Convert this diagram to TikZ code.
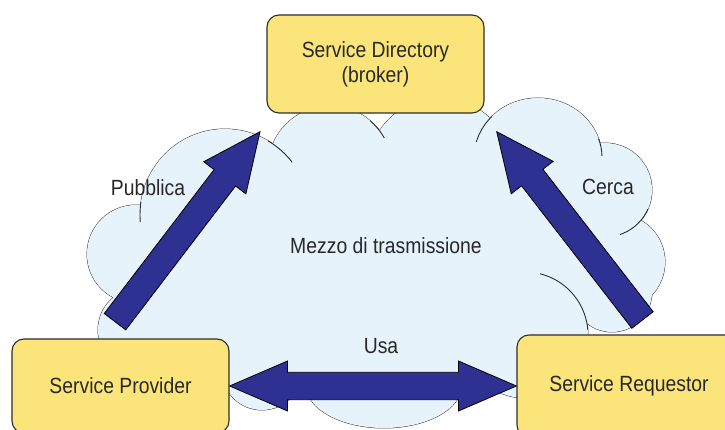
\documentclass[tikz,border=0pt]{standalone}
\usepackage{fontspec}
\setmainfont{Liberation Sans}[FakeStretch=0.88]
\usetikzlibrary{calc}
\definecolor{boxfill}{RGB}{251,229,122}
\definecolor{cloudfill}{RGB}{230,243,251}
\definecolor{arrowfill}{RGB}{46,49,146}
\definecolor{inkc}{RGB}{45,45,45}
\definecolor{txtc}{RGB}{40,40,40}
\tikzset{
  boxst/.style={draw=inkc, line width=1.1pt, fill=boxfill, rounded corners=12pt,
    align=center, text=txtc, font=\fontsize{22}{25}\selectfont, inner sep=0pt},
  lbl/.style={text=txtc, font=\fontsize{22}{25}\selectfont, inner sep=0pt},
  blockarrow/.style={draw=black, line width=0.8pt, fill=arrowfill, line join=miter},
  cloudline/.style={draw=inkc, line width=0.9pt},
  cloudfillst/.style={fill=cloudfill},
}
\newcommand\blkarrow[2]{%
  \draw[blockarrow] ($(#1)!13.5pt!90:(#2)$)
    -- ($(#2)!58pt!(#1)!13.5pt!90:(#2)$)
    -- ($(#2)!58pt!(#1)!26.5pt!90:(#2)$)
    -- (#2)
    -- ($(#2)!58pt!(#1)!26.5pt!-90:(#2)$)
    -- ($(#2)!58pt!(#1)!13.5pt!-90:(#2)$)
    -- ($(#1)!13.5pt!-90:(#2)$) -- cycle;}
\newcommand\dblarrow[2]{%
  \draw[blockarrow] (#1)
    -- ($(#1)!58pt!(#2)!25pt!90:(#2)$)
    -- ($(#1)!58pt!(#2)!13.7pt!90:(#2)$)
    -- ($(#2)!58pt!(#1)!13.7pt!90:(#2)$)
    -- ($(#2)!58pt!(#1)!25pt!90:(#2)$)
    -- (#2)
    -- ($(#2)!58pt!(#1)!25pt!-90:(#2)$)
    -- ($(#2)!58pt!(#1)!13.7pt!-90:(#2)$)
    -- ($(#1)!58pt!(#2)!13.7pt!-90:(#2)$)
    -- ($(#1)!58pt!(#2)!25pt!-90:(#2)$) -- cycle;}
\begin{document}
\begin{tikzpicture}[x=1pt,y=1pt]
  \useasboundingbox (0,0) rectangle (725,430);
  \clip (0,0) rectangle (725,430);
  \fill[white] (0,0) rectangle (725,430);
  % cloud: outlines, then fill of the union
  \def\cloudlist{385/165/215/120, 225/215/85/86, 136/176/49/49, 140/100/42/42,
    200/130/50/50, 262/60/40/40, 384/45/78/43, 525/95/63/63, 612/138/40/40,
    617/168/48/48, 605/240/47/47, 538/272/64/60, 330/262/62/62, 440/260/72/72}
  \foreach \cx/\cy/\rx/\ry in \cloudlist {
    \draw[cloudline] (\cx,\cy) ellipse[x radius=\rx pt, y radius=\ry pt];
  }
  \foreach \cx/\cy/\rx/\ry in \cloudlist {
    \fill[cloudfillst] (\cx,\cy) ellipse[x radius=\rx pt, y radius=\ry pt];
  }
  % inner tails of the cloud
  \foreach \cx/\cy/\rx/\ry/\xa/\ya/\xb/\yb in {
    225/215/85/86/137/208/152/227,
    225/215/85/86/268/265/292/292,
    330/262/62/62/370/292/392/317,
    538/272/64/60/470/288/492/314,
    538/272/64/60/590/274/606/290,
    605/240/47/47/620/194/652/220,
    525/95/63/63/540/100/590/160} {
    \begin{scope}
      \clip (\xa,\ya) rectangle (\xb,\yb);
      \draw[cloudline] (\cx,\cy) ellipse[x radius=\rx pt, y radius=\ry pt];
    \end{scope}
  }
  % boxes
  \node[boxst, minimum width=217pt, minimum height=98pt] (dir) at (375.5,366)
    {Service Directory\\(broker)};
  \node[boxst, minimum width=217pt, minimum height=94pt] (prov) at (120.5,44)
    {Service Provider};
  \node[boxst, minimum width=224pt, minimum height=102pt] (req) at (629,44)
    {Service Requestor};
  % arrows
  \coordinate (pubT) at (115,108.3);
  \coordinate (pubH) at (260,298.3);
  \coordinate (cerT) at (642.5,110);
  \coordinate (cerH) at (496.7,298.3);
  \blkarrow{pubT}{pubH}
  \blkarrow{cerT}{cerH}
  \dblarrow{prov.east}{req.west}
  % labels
  \node[lbl] (mezzo) at (386,184) {Mezzo di trasmissione};
  \node[lbl] (usa) at (381,84) {Usa};
  \node[lbl] (pubb) at (148,242) {Pubblica};
  \node[lbl] (cerca) at (608,243) {Cerca};
\end{tikzpicture}
\end{document}
